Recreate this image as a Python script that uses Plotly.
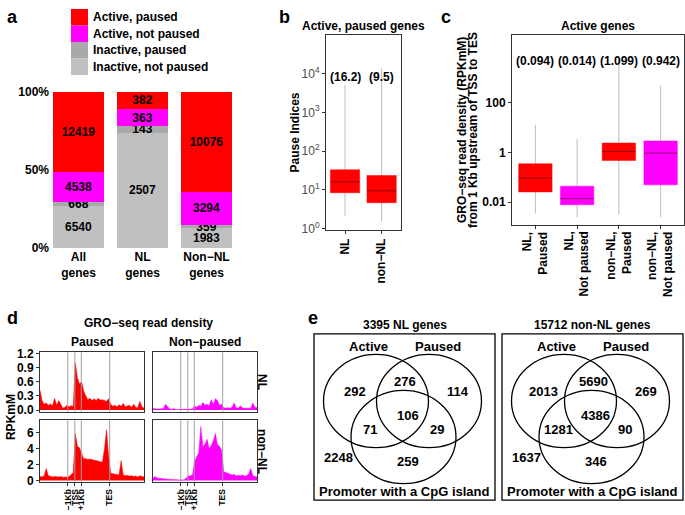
import plotly.graph_objects as go

W, H = 685, 515
FONT = "Liberation Sans, Arial, sans-serif"
RED, MAG, DGRAY, LGRAY = "#FF0000", "#FF00FF", "#A9A9A9", "#C0C0C0"
FRAME = "#333333"
WHISK = "#BDBDBD"
VLINE = "#A0A0A0"


def fx(p):
    return p / W


def fy(p):
    return 1 - p / H


# ---------------- data: panel a ----------------
a_categories = ["All<br>genes", "NL<br>genes", "Non−NL<br>genes"]
a_series_names = ["Inactive, not paused", "Inactive, paused", "Active, not paused", "Active, paused"]
inactive_not_paused = [6540, 2507, 1983]
inactive_paused = [668, 143, 359]
active_not_paused = [4538, 363, 3294]
active_paused = [12419, 382, 10076]
a_tickvals = [0, 50, 100]
a_ticktext = ["0%", "50%", "100%"]

# ---------------- data: panel b ----------------
b_title = "Active, paused genes"
b_groups = ["NL", "non−NL"]
b_low = [2.1, 1.56]
b_q1 = [8.5, 4.7]
b_median = [16.2, 9.5]
b_q3 = [33.0, 23.6]
b_high = [5100, 13500]
b_tickvals = [1, 10, 100, 1000, 10000]
b_ticktext = ["10<sup>0</sup>", "10<sup>1</sup>", "10<sup>2</sup>", "10<sup>3</sup>", "10<sup>4</sup>"]

# ---------------- data: panel c ----------------
c_title = "Active genes"
c_groups = ["NL,<br>Paused", "NL,<br>Not paused", "non−NL,<br>Paused", "non−NL,<br>Not paused"]
c_low = [0.0036, 0.0025, 0.0032, 0.0025]
c_q1 = [0.026, 0.0079, 0.48, 0.05]
c_median = [0.094, 0.014, 1.099, 0.942]
c_q3 = [0.35, 0.044, 2.4, 2.9]
c_high = [13, 3.4, 5900, 480]
c_tickvals = [0.01, 1, 100]
c_ticktext = ["0.01", "1", "100"]

# ---------------- data: panel d ----------------
d_bins = list(range(0, 101, 2))
nl_paused = [0.42, 0.2, 0.12, 0.15, 0.1, 0.13, 0.09, 0.25, 0.1, 0.2, 0.12, 0.04, 0.06, 0.1, 0.07, 0.09,
             0.08, 1.0, 0.68, 0.55, 0.6, 0.4, 0.3, 0.22, 0.25, 0.2, 0.24, 0.2, 0.25, 0.21, 0.22, 0.2,
             0.18, 0.24, 0.12, 0.08, 0.1, 0.07, 0.11, 0.08, 0.14, 0.07, 0.09, 0.1, 0.06, 0.12, 0.06,
             0.05, 0.18, 0.07, 0.04]
nl_nonpaused = [0.03, 0.02, 0.02, 0.02, 0.03, 0.03, 0.12, 0.08, 0.02, 0.01, 0.03, 0.01, 0.01, 0.01, 0.01,
                0.01, 0.01, 0.01, 0.01, 0.02, 0.09, 0.06, 0.1, 0.08, 0.16, 0.1, 0.12, 0.09, 0.22, 0.12,
                0.24, 0.2, 0.1, 0.12, 0.05, 0.04, 0.05, 0.04, 0.06, 0.15, 0.05, 0.04, 0.09, 0.05, 0.04,
                0.04, 0.03, 0.04, 0.15, 0.06, 0.05]
nonnl_paused = [0.5, 0.45, 0.6, 1.5, 0.6, 0.5, 0.45, 0.5, 0.45, 0.45, 0.5, 0.4, 0.45, 0.4, 0.5, 0.7, 1.0,
                5.9, 4.3, 4.1, 3.3, 2.7, 2.75, 2.65, 2.7, 2.6, 2.55, 2.5, 2.4, 2.35, 2.3, 4.0, 6.4, 3.0,
                0.9, 0.85, 0.8, 0.75, 0.7, 2.5, 0.7, 0.6, 0.65, 0.55, 0.6, 0.5, 0.55, 0.45, 0.6, 0.5, 0.45]
nonnl_nonpaused = [0.3, 0.5, 0.3, 0.25, 0.2, 0.2, 0.18, 0.15, 0.15, 0.12, 0.12, 0.1, 0.08, 0.05, 0.05,
                   0.08, 0.3, 0.55, 0.6, 0.7, 2.4, 2.9, 3.5, 6.8, 4.2, 4.6, 5.2, 4.0, 4.4, 5.0, 5.9, 4.5,
                   4.3, 3.8, 1.1, 1.0, 0.9, 0.8, 0.7, 0.75, 0.6, 0.65, 0.6, 0.7, 0.55, 0.6, 0.8, 1.5,
                   0.6, 0.5, 0.45]
d_mark_pos = [26.7, 33.5, 39.7, 67.0]
d_mark_labels = ["−1Kb", "TSS", "+1Kb", "TES"]
d_top_ticks = [0, 0.3, 0.6, 0.9, 1.2]
d_top_ticktext = ["0.0", "0.3", "0.6", "0.9", "1.2"]
d_bot_ticks = [0, 2, 4, 6]

# ---------------- data: panel e ----------------
venn_titles = ["3395 NL genes", "15712 non-NL genes"]
venn_set_labels = ["Active", "Paused", "Promoter with a CpG island"]
# order: Active only, Active&Paused, Paused only, all three, Active&CpG, Paused&CpG, CpG only, none
venn_nl = [292, 276, 114, 106, 71, 29, 259, 2248]
venn_nonnl = [2013, 5690, 269, 4386, 1281, 90, 346, 1637]

# ---------------- figure ----------------
fig = go.Figure()
annotations = []
shapes = []


def ann(text, px, py, size=12, bold=True, xanchor="center", yanchor="middle", angle=0, color="black"):
    annotations.append(dict(text=text, x=fx(px), y=fy(py), xref="paper", yref="paper", showarrow=False,
                            xanchor=xanchor, yanchor=yanchor, textangle=angle,
                            font=dict(family=FONT, size=size, color=color,
                                      weight="bold" if bold else "normal")))


# ---- panel a bars ----
a_values = [inactive_not_paused, inactive_paused, active_not_paused, active_paused]
a_colors = [LGRAY, DGRAY, MAG, RED]
for name, vals, col in zip(a_series_names, a_values, a_colors):
    fig.add_trace(go.Bar(x=a_categories, y=vals, name=name, marker=dict(color=col, line=dict(width=0)),
                         text=[str(v) for v in vals], textposition="inside", insidetextanchor="middle",
                         textangle=0, constraintext="none",
                         textfont=dict(family=FONT, size=12, color="black", weight="bold"),
                         width=0.8, xaxis="x", yaxis="y", showlegend=False, hoverinfo="skip"))

# legend of panel a (drawn)
leg_top = 2
for k, (name, col) in enumerate(zip(a_series_names[::-1], a_colors[::-1])):
    y0 = leg_top + 17 * k
    shapes.append(dict(type="rect", xref="paper", yref="paper", x0=fx(71), x1=fx(88), y0=fy(y0), y1=fy(y0 + 17),
                       fillcolor=col, line=dict(width=0)))
    ann(name, 91, y0 + 8.5, xanchor="left")


# ---- box helper ----
def add_boxes(low, q1, med, q3, high, colors, xa, ya, hw=0.4):
    for i in range(len(med)):
        fig.add_trace(go.Scatter(x=[i, i], y=[low[i], high[i]], mode="lines",
                                 line=dict(color=WHISK, width=1), xaxis=xa, yaxis=ya,
                                 showlegend=False, hoverinfo="skip"))
        fig.add_trace(go.Scatter(x=[i - hw, i + hw, i + hw, i - hw, i - hw],
                                 y=[q1[i], q1[i], q3[i], q3[i], q1[i]], mode="lines", fill="toself",
                                 fillcolor=colors[i], line=dict(color=colors[i], width=0.5),
                                 xaxis=xa, yaxis=ya, showlegend=False, hoverinfo="skip"))
        fig.add_trace(go.Scatter(x=[i - hw, i + hw], y=[med[i], med[i]], mode="lines",
                                 line=dict(color="rgba(60,0,0,0.8)", width=0.7), xaxis=xa, yaxis=ya,
                                 showlegend=False, hoverinfo="skip"))


add_boxes(b_low, b_q1, b_median, b_q3, b_high, [RED, RED], "x2", "y2")
add_boxes(c_low, c_q1, c_median, c_q3, c_high, [RED, MAG, RED, MAG], "x3", "y3")

for i, m in enumerate(b_median):
    annotations.append(dict(text=f"({m})", x=i, xref="x2", y=fy(63), yref="paper", showarrow=False,
                            font=dict(family=FONT, size=12, color="black", weight="bold")))
for i, m in enumerate(c_median):
    annotations.append(dict(text=f"({m})", x=i, xref="x3", y=fy(46.7), yref="paper", showarrow=False,
                            font=dict(family=FONT, size=12, color="black", weight="bold")))
# rotated two-line category labels of panel c
for i, g in enumerate(c_groups):
    annotations.append(dict(text=g, x=i, xref="x3", y=fy(229), yref="paper", showarrow=False,
                            textangle=-90, xanchor="center", yanchor="top", align="right",
                            font=dict(family=FONT, size=12, color="black", weight="bold")))

# ---- panel d profiles ----
d_profiles = [(nl_paused, RED, "x4", "y4"), (nl_nonpaused, MAG, "x5", "y5"),
              (nonnl_paused, RED, "x6", "y6"), (nonnl_nonpaused, MAG, "x7", "y7")]
for prof, col, xa, ya in d_profiles:
    fig.add_trace(go.Scatter(x=d_bins, y=prof, mode="lines", fill="tozeroy", fillcolor=col,
                             line=dict(color=col, width=0.5), xaxis=xa, yaxis=ya,
                             showlegend=False, hoverinfo="skip"))
    for p in d_mark_pos:
        shapes.append(dict(type="line", xref=xa, yref=ya + " domain", x0=p, x1=p, y0=0, y1=1,
                           line=dict(color=VLINE, width=1), layer="above"))

# ---- panel e venn ----
v_circles = [(62, 69), (115, 69), (89.5, 106)]
v_rx, v_ry = 52.5, 48
v_region_pos = [(41, 59), (91, 48.5), (144, 59), (93.5, 83.5), (56, 98), (122.5, 98), (93.5, 131), (24, 127)]
v_set_pos = [(54, 13), (124, 13), (90.5, 162)]
for ox, title, counts in zip([314, 502], venn_titles, [venn_nl, venn_nonnl]):
    oy = 336
    shapes.append(dict(type="rect", xref="paper", yref="paper", x0=fx(ox), x1=fx(ox + 181),
                       y0=fy(oy), y1=fy(oy + 171), line=dict(color="black", width=1.3)))
    for cx, cy in v_circles:
        shapes.append(dict(type="circle", xref="paper", yref="paper", x0=fx(ox + cx - v_rx),
                           x1=fx(ox + cx + v_rx), y0=fy(oy + cy - v_ry), y1=fy(oy + cy + v_ry),
                           line=dict(color="black", width=1.3)))
    ann(title, ox + 90.5, oy - 9)
    for lab, (lx, ly) in zip(venn_set_labels, v_set_pos):
        ann(lab, ox + lx, oy + ly, size=13)
    for cnt, (lx, ly) in zip(counts, v_region_pos):
        ann(str(cnt), ox + lx, oy + ly, size=13)

# ---- text labels ----
ann("a", 5, 10, size=18, xanchor="left")
ann("b", 284, 10, size=18)
ann("c", 446, 10, size=18)
ann("d", 5, 320, size=18, xanchor="left")
ann("e", 313, 320, size=18)
ann(b_title, 363.5, 20)
ann(c_title, 598, 20)
ann("Pause Indices", 295, 129, angle=-90)
ann("GRO−seq read density (RPKmM)", 462, 126.5, angle=-90)
ann("from 1 Kb upstream of TSS to TES", 473, 126.5, angle=-90)
ann("GRO−seq read density", 148.5, 325)
ann("Paused", 92, 344)
ann("Non−paused", 205, 344)
ann("NL", 262, 385.5, angle=90)
ann("non−NL", 262, 456.5, angle=90)
ann("RPKmM", 11, 421.5, angle=-90)

# ---------------- layout ----------------
tf_bold = dict(family=FONT, size=12, color="black", weight="bold")
frame = dict(showline=True, mirror=True, linecolor=FRAME, linewidth=1, showgrid=False, zeroline=False)

layout = dict(
    width=W, height=H, margin=dict(l=0, r=0, t=0, b=0),
    paper_bgcolor="white", plot_bgcolor="white", showlegend=False, hovermode=False,
    barmode="stack", barnorm="percent", bargap=0.2,
    uniformtext=dict(mode="show", minsize=12),
    font=dict(family=FONT, size=12, color="black"),
    # panel a
    xaxis=dict(domain=[fx(50), fx(238.5)], anchor="y", range=[-0.445, 2.5], showline=False, showgrid=False,
               zeroline=False, ticks="", tickfont=tf_bold),
    yaxis=dict(domain=[fy(248), fy(87)], anchor="x", range=[0, 100], tickvals=a_tickvals, ticktext=a_ticktext,
               showline=False, showgrid=False, zeroline=False, ticks="", tickfont=tf_bold),
    # panel b
    xaxis2=dict(domain=[fx(326), fx(401)], anchor="y2", range=[-0.52, 1.53], tickvals=[0, 1],
                ticktext=b_groups, tickangle=-90, ticks="outside", ticklen=3, tickcolor=FRAME,
                tickfont=tf_bold, **frame),
    yaxis2=dict(domain=[fy(229), fy(29)], anchor="x2", type="log", range=[-0.025, 4.985], tickvals=b_tickvals,
                ticktext=b_ticktext, ticks="outside", ticklen=3, tickcolor=FRAME,
                tickfont=dict(family=FONT, size=12, color="#4D4D4D"), **frame),
    # panel c
    xaxis3=dict(domain=[fx(512), fx(684)], anchor="y3", range=[-0.56, 3.56], tickvals=[0, 1, 2, 3],
                showticklabels=False, ticks="outside", ticklen=3, tickcolor=FRAME, **frame),
    yaxis3=dict(domain=[fy(224), fy(29)], anchor="x3", type="log", range=[-2.91, 4.71], tickvals=c_tickvals,
                ticktext=c_ticktext, ticks="outside", ticklen=3, tickcolor=FRAME, tickfont=tf_bold, **frame),
    annotations=annotations, shapes=shapes,
)

d_axes = [("4", 40, 144, 355, 416, True, False, [-0.035, 1.22]),
          ("5", 153, 257, 355, 416, False, False, [-0.035, 1.22]),
          ("6", 40, 144, 425, 488, True, True, [-0.16, 7.55]),
          ("7", 153, 257, 425, 488, False, True, [-0.16, 7.55])]
for n, x0, x1, y0, y1, show_y, show_x, yr in d_axes:
    xa = dict(domain=[fx(x0), fx(x1)], anchor="y" + n, range=[0, 100], **frame)
    if show_x:
        xa.update(tickvals=d_mark_pos, ticktext=d_mark_labels, tickangle=-90, ticks="outside", ticklen=3,
                  tickcolor=FRAME, tickfont=dict(family=FONT, size=8.5, color="black", weight="bold"))
    else:
        xa.update(showticklabels=False, ticks="")
    ya = dict(domain=[fy(y1), fy(y0)], anchor="x" + n, range=yr, **frame)
    if show_y:
        if yr[1] < 2:
            ya.update(tickvals=d_top_ticks, ticktext=d_top_ticktext)
        else:
            ya.update(tickvals=d_bot_ticks)
        ya.update(ticks="outside", ticklen=3, tickcolor=FRAME, tickfont=tf_bold)
    else:
        ya.update(showticklabels=False, ticks="")
    layout["xaxis" + n] = xa
    layout["yaxis" + n] = ya

fig.update_layout(**layout)
fig.write_html("out.html", config={"displayModeBar": False, "staticPlot": True},
               post_script="document.body.style.margin='0px';document.body.style.overflow='hidden';")
